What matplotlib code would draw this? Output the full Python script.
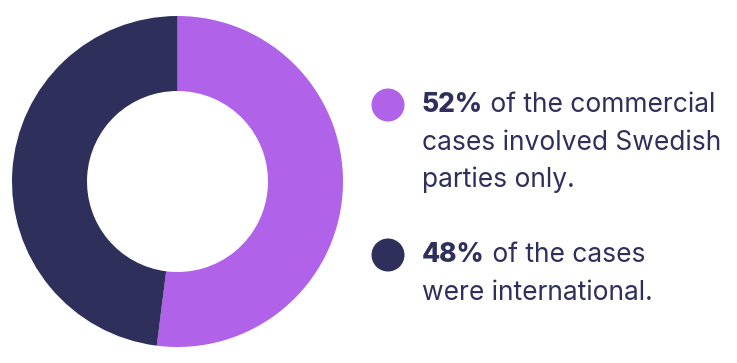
import matplotlib
matplotlib.use("Agg")
import matplotlib.pyplot as plt
from matplotlib.patches import Circle

# data
labels = ["Swedish parties only", "International"]
shares = [52, 48]
colors = ["#B062E9", "#2F2F5B"]
bold_parts = ["52%", "48%"]
text_lines = [
    [" of the commercial", "cases involved Swedish", "parties only."],
    [" of the cases", "were international."],
]

W, H = 737, 363
TEXT_COLOR = "#2F2F5B"
FONT = "Inter"
FS = 19

fig = plt.figure(figsize=(W / 100, H / 100), dpi=100)
ax = fig.add_axes([0, 0, 1, 1])

# donut
ax.pie(shares, colors=colors, startangle=90, counterclock=False,
       center=(177.5, H - 181.5), radius=165.5,
       wedgeprops=dict(width=75, linewidth=0))
ax.set_xlim(0, W)
ax.set_ylim(0, H)
ax.set_aspect("equal")
ax.axis("off")

# legend blocks
block_top = [112, 262]   # baseline of first line, pixels from top
line_gap = 37.5
text_x = 422
renderer = fig.canvas.get_renderer()
for i, (bold, lines) in enumerate(zip(bold_parts, text_lines)):
    y0 = block_top[i]
    ax.add_patch(Circle((388, H - (y0 - 7)), 16.5, color=colors[i], lw=0))
    t = ax.text(text_x, H - y0, bold, fontsize=FS, fontweight="heavy",
                family=FONT, color=TEXT_COLOR, va="baseline")
    bb = t.get_window_extent(renderer)
    ax.text(bb.x1, H - y0, lines[0], fontsize=FS, family=FONT,
            color=TEXT_COLOR, va="baseline")
    for j, line in enumerate(lines[1:], start=1):
        ax.text(text_x, H - (y0 + j * line_gap), line, fontsize=FS,
                family=FONT, color=TEXT_COLOR, va="baseline")

fig.savefig("out.png", dpi=100, facecolor="white")
